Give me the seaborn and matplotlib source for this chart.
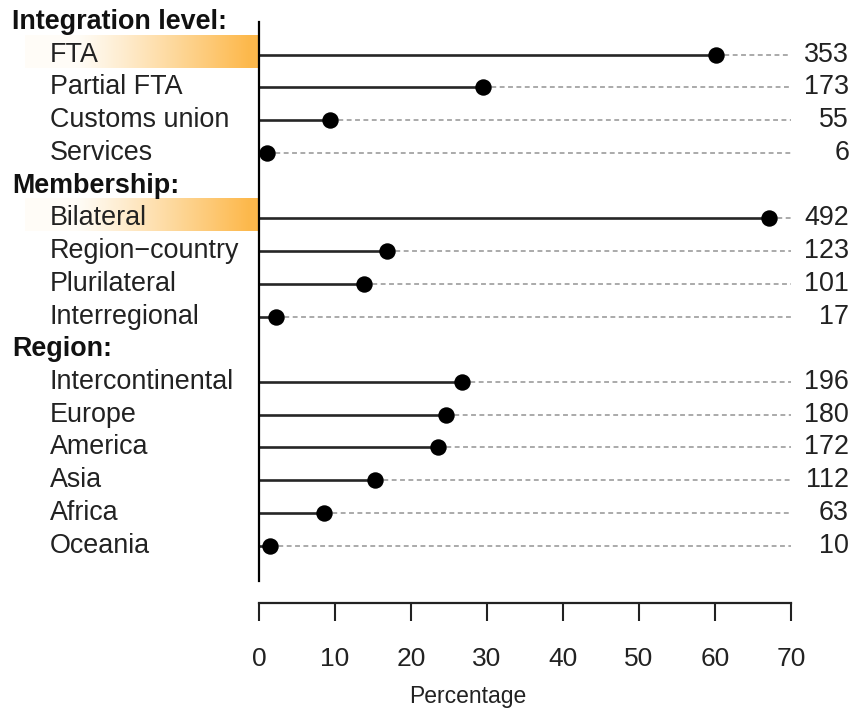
import matplotlib
matplotlib.use("Agg")
import matplotlib.pyplot as plt
import matplotlib.transforms as mtransforms
import numpy as np
import pandas as pd
import seaborn as sns

# -----------------------------------------------------------------
# DATA
# -----------------------------------------------------------------
groups = ["Integration level:", "Membership:", "Region:"]
integration_labels = ["FTA", "Partial FTA", "Customs union", "Services"]
integration_pct = [60.1, 29.5, 9.4, 1.0]
integration_n = [353, 173, 55, 6]

membership_labels = ["Bilateral", "Region\u2212country", "Plurilateral", "Interregional"]
membership_pct = [67.1, 16.8, 13.8, 2.3]
membership_n = [492, 123, 101, 17]

region_labels = ["Intercontinental", "Europe", "America", "Asia", "Africa", "Oceania"]
region_pct = [26.7, 24.6, 23.5, 15.3, 8.6, 1.4]
region_n = [196, 180, 172, 112, 63, 10]

highlighted = ["FTA", "Bilateral"]
x_ticks = [0, 10, 20, 30, 40, 50, 60, 70]

# bygg en tabell med en rad per kategori, rubriker tar egen rad
rows = []
header_rows = []
row = 0
for header, labels, pct, n in zip(
    groups,
    [integration_labels, membership_labels, region_labels],
    [integration_pct, membership_pct, region_pct],
    [integration_n, membership_n, region_n],
):
    header_rows.append((header, row))
    row += 1
    for lab, p, c in zip(labels, pct, n):
        rows.append({"label": lab, "pct": p, "n": c, "row": row})
        row += 1
df = pd.DataFrame(rows)

# -----------------------------------------------------------------
# FIGUR
# -----------------------------------------------------------------
sns.set_style("ticks")
plt.rcParams["font.family"] = ["Liberation Sans", "DejaVu Sans"]

W, H = 852, 716
fig = plt.figure(figsize=(W / 100, H / 100), dpi=100)
ax = fig.add_axes([259 / W, 1 - 581 / H, (791 - 259) / W, (581 - 22) / H])

# heldragen linje fram till värdet, streckad grå efteråt
ax.hlines(df["row"], 0, df["pct"], color="#262626", linewidth=1.9, zorder=2)
ax.hlines(df["row"], df["pct"], 70, color="#aaaaaa", linewidth=1.4,
          linestyles=(0, (2.5, 1.8)), zorder=1)
sns.scatterplot(data=df, x="pct", y="row", color="black", s=140,
                edgecolor="black", linewidth=0, ax=ax, zorder=3, clip_on=False)

ax.set_xlim(0, 70)
ax.set_ylim(17.08, 0)
ax.margins(0)

for side in ["top", "right"]:
    ax.spines[side].set_visible(False)
ax.spines["left"].set_position(("axes", 0))
ax.spines["left"].set_linewidth(1.6)
ax.spines["left"].set_color("black")
ax.spines["bottom"].set_position(("outward", 15.8))
ax.spines["bottom"].set_linewidth(1.6)
ax.spines["bottom"].set_color("#222222")
ax.set_yticks([])
ax.set_xticks(x_ticks)
ax.tick_params(axis="x", direction="out", length=13, width=1.5,
               labelsize=19, pad=19, color="#222222", labelcolor="#222222")
ax.tick_params(axis="y", left=False)
ax.set_xlabel("Percentage", fontsize=16.5, color="#222222")
ax.xaxis.set_label_coords((468 - 259) / 532, -(697 - 581) / 559)
ax.xaxis.label.set_va("center")
ax.set_ylabel("")

trans = mtransforms.blended_transform_factory(fig.transFigure, ax.transData)
for header, r in header_rows:
    ax.text(12 / W, r, header, transform=trans, ha="left", va="center",
            fontsize=19.4, fontweight="bold", color="#111111", clip_on=False)
for _, rec in df.iterrows():
    ax.text(50 / W, rec["row"], rec["label"], transform=trans, ha="left",
            va="center", fontsize=19.4, color="#222222", clip_on=False)
    ax.text(849 / W, rec["row"], str(rec["n"]), transform=trans, ha="right",
            va="center", fontsize=19.4, color="#222222", clip_on=False)

# orange gradient bakom de markerade etiketterna
bg = fig.add_axes([0, 0, 1, 1], zorder=-1)
bg.set_xlim(0, W)
bg.set_ylim(0, H)
bg.axis("off")
t = np.linspace(0, 1, 300)
w = np.clip((t - 0.22) / 0.74, 0, 1) ** 1.1
white = np.array([1.0, 0.99, 0.97])
orange = np.array([0.992, 0.725, 0.30])
grad = (white[None, :] * (1 - w[:, None]) + orange[None, :] * w[:, None])[None, :, :]
for lab in highlighted:
    r = df.loc[df["label"] == lab, "row"].iloc[0]
    _, y_top = ax.transData.transform((0, r - 0.6))
    _, y_bot = ax.transData.transform((0, r + 0.4))
    bg.imshow(grad, extent=(25, 258, y_bot, y_top), aspect="auto",
              interpolation="bilinear")

fig.savefig("out.png", dpi=100)
plt.close(fig)
